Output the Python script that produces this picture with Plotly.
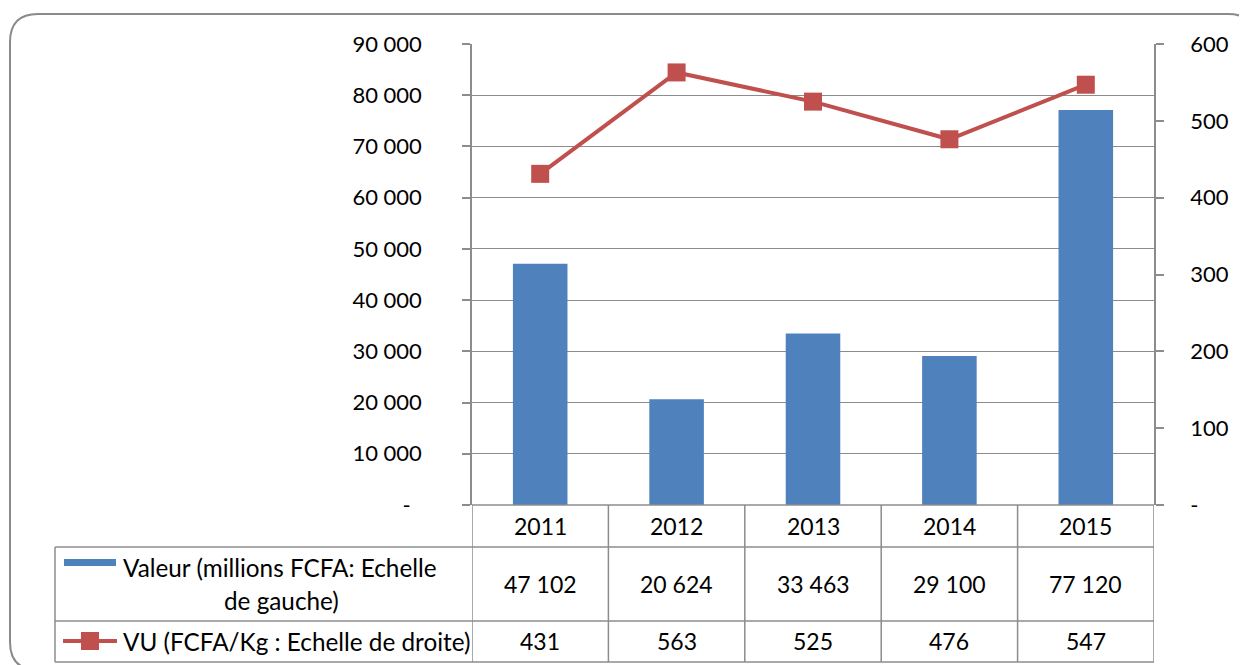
import plotly.graph_objects as go

years = ["2011", "2012", "2013", "2014", "2015"]
valeur = [47102, 20624, 33463, 29100, 77120]
vu = [431, 563, 525, 476, 547]
left_tickvals = [0, 10000, 20000, 30000, 40000, 50000, 60000, 70000, 80000, 90000]
left_ticktext = ["-\u00a0\u00a0", "10 000", "20 000", "30 000", "40 000", "50 000",
                 "60 000", "70 000", "80 000", "90 000"]
right_tickvals = [0, 100, 200, 300, 400, 500, 600]
right_ticktext = ["-", "100", "200", "300", "400", "500", "600"]
label_valeur_1 = "Valeur (millions FCFA: Echelle"
label_valeur_2 = "de gauche)"
label_vu = "VU (FCFA/Kg : Echelle de droite)"

# page body has an 8px margin; size the figure so it fits the window
OFF = 8
W, H = 1247 - OFF, 665 - OFF
PL, PR, PT, PB = 472, 1154, 44, 505  # reference pixel positions
BLUE = "#4F81BD"
RED = "#C0504D"
GRID = "#8C8C8C"
FONT = "Lato"


def px(x):
    return (x - PL) / (PR - PL)


def py(y):
    return (PB - y) / (PB - PT)


def fmt(v):
    return f"{v:,}".replace(",", " ")


fig = go.Figure()
fig.add_trace(go.Bar(x=years, y=valeur, marker=dict(color=BLUE, line=dict(width=0)),
                     width=0.4, name=label_valeur_1 + " " + label_valeur_2, yaxis="y"))
fig.add_trace(go.Scatter(x=years, y=vu, mode="lines+markers", yaxis="y2",
                         line=dict(color=RED, width=4),
                         marker=dict(symbol="square", size=18, color=RED),
                         name=label_vu))

shapes = []
line_style = dict(color=GRID, width=1.5)
# table horizontal lines
row_y = [505, 547, 621, 662]
shapes.append(dict(type="line", xref="paper", yref="paper", x0=px(PL), x1=px(PR),
                   y0=py(505), y1=py(505), line=line_style))
for yy in row_y[1:]:
    shapes.append(dict(type="line", xref="paper", yref="paper", x0=px(55), x1=px(PR),
                       y0=py(yy), y1=py(yy), line=line_style))
# table vertical lines
for i in range(len(years) + 1):
    shapes.append(dict(type="line", xref="x", yref="paper", x0=i - 0.5, x1=i - 0.5,
                       y0=py(505), y1=py(662), line=line_style))
shapes.append(dict(type="line", xref="paper", yref="paper", x0=px(55), x1=px(55),
                   y0=py(547), y1=py(662), line=line_style))
# legend swatches
shapes.append(dict(type="rect", xref="paper", yref="paper", x0=px(64), x1=px(116),
                   y0=py(559), y1=py(566), fillcolor=BLUE, line=dict(width=0)))
shapes.append(dict(type="line", xref="paper", yref="paper", x0=px(63), x1=px(117),
                   y0=py(641), y1=py(641), line=dict(color=RED, width=4)))
shapes.append(dict(type="rect", xref="paper", yref="paper", x0=px(81), x1=px(99),
                   y0=py(632), y1=py(650), fillcolor=RED, line=dict(width=0)))
# outer rounded border
x0, y0, x1, y1, r = 10, 14, 1256, 670, 28
path = (f"M {px(x0)},{py(y0 + r)} Q {px(x0)},{py(y0)} {px(x0 + r)},{py(y0)} "
        f"L {px(x1 - r)},{py(y0)} Q {px(x1)},{py(y0)} {px(x1)},{py(y0 + r)} "
        f"L {px(x1)},{py(y1 - r)} Q {px(x1)},{py(y1)} {px(x1 - r)},{py(y1)} "
        f"L {px(x0 + r)},{py(y1)} Q {px(x0)},{py(y1)} {px(x0)},{py(y1 - r)} Z")
shapes.append(dict(type="path", xref="paper", yref="paper", path=path,
                   line=dict(color="#8A8A8A", width=2)))

annotations = []
tfont = dict(family=FONT, size=22, color="black")
cfont = dict(family=FONT, size=23, color="black")
lfont = dict(family=FONT, size=24.3, color="black")
for i, yr in enumerate(years):
    annotations.append(dict(x=i, y=py(526), xref="x", yref="paper", text=yr,
                            showarrow=False, font=cfont, xanchor="center", yanchor="middle"))
    annotations.append(dict(x=i, y=py(584), xref="x", yref="paper", text=fmt(valeur[i]),
                            showarrow=False, font=cfont, xanchor="center", yanchor="middle"))
    annotations.append(dict(x=i, y=py(641), xref="x", yref="paper", text=fmt(vu[i]),
                            showarrow=False, font=cfont, xanchor="center", yanchor="middle"))
annotations.append(dict(x=px(121), y=py(567), xref="paper", yref="paper", text=label_valeur_1,
                        showarrow=False, font=lfont, xanchor="left", yanchor="middle"))
annotations.append(dict(x=px(281), y=py(600), xref="paper", yref="paper", text=label_valeur_2,
                        showarrow=False, font=lfont, xanchor="center", yanchor="middle"))
annotations.append(dict(x=px(121), y=py(641), xref="paper", yref="paper", text=label_vu,
                        showarrow=False, font=lfont, xanchor="left", yanchor="middle"))

fig.update_layout(
    width=W, height=H,
    margin=dict(l=PL - OFF, r=W - (PR - OFF), t=PT - OFF, b=H - (PB - OFF), pad=0),
    paper_bgcolor="white", plot_bgcolor="white",
    showlegend=False,
    font=dict(family=FONT, size=22, color="black"),
    xaxis=dict(type="category", showticklabels=False, showgrid=False, zeroline=False,
               showline=False, ticks="", range=[-0.5, 4.5]),
    yaxis=dict(range=[0, 90000], tickvals=left_tickvals, ticktext=left_ticktext,
               showgrid=True, gridcolor=GRID, gridwidth=1.3, zeroline=False,
               showline=True, linecolor=GRID, linewidth=1.5,
               ticks="outside", ticklen=8, tickcolor=GRID, tickwidth=1.5,
               ticklabelstandoff=36, tickfont=tfont),
    yaxis2=dict(range=[0, 600], overlaying="y", side="right", tickvals=right_tickvals,
                ticktext=right_ticktext, showgrid=False, zeroline=False,
                showline=True, linecolor=GRID, linewidth=1.5,
                ticks="outside", ticklen=8, tickcolor=GRID, tickwidth=1.5,
                ticklabelstandoff=22, tickfont=tfont),
    shapes=shapes, annotations=annotations,
    bargap=0.6,
)

fig.write_html("out.html")
